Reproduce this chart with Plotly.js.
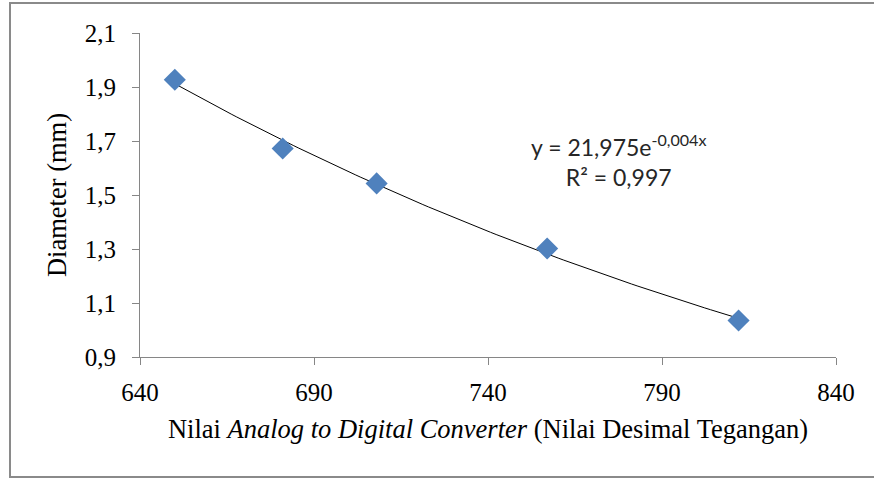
<!DOCTYPE html>
<html>
<head>
<meta charset="utf-8">
<script src="https://cdn.plot.ly/plotly-3.0.1.min.js"></script>
<style>html,body{margin:0;padding:0;background:#fff;}#chart{width:874px;height:479px;}</style>
</head>
<body>
<div id="chart"></div>
<script>
// Data
const adcValues = [650, 681, 708, 757, 812];
const diameterMm = [1.927, 1.672, 1.543, 1.302, 1.035];
const xTickVals = [640, 690, 740, 790, 840];
const xTickText = ['640', '690', '740', '790', '840'];
const yTickVals = [0.9, 1.1, 1.3, 1.5, 1.7, 1.9, 2.1];
const yTickText = ['0,9', '1,1', '1,3', '1,5', '1,7', '1,9', '2,1'];
const equationText = 'y = 21,975e<sup>-0,004x</sup><br>R² = 0,997';

// Exponential trendline fitted to the data (least squares on ln y)
const n = adcValues.length;
const lnY = diameterMm.map(v => Math.log(v));
const mx = adcValues.reduce((a, b) => a + b, 0) / n;
const my = lnY.reduce((a, b) => a + b, 0) / n;
let sxy = 0, sxx = 0;
for (let i = 0; i < n; i++) { sxy += (adcValues[i] - mx) * (lnY[i] - my); sxx += (adcValues[i] - mx) ** 2; }
const b = sxy / sxx;
const a = Math.exp(my - b * mx);
const xMin = Math.min(...adcValues), xMax = Math.max(...adcValues);
const trendX = [], trendY = [];
for (let k = 0; k <= 100; k++) { const x = xMin + (xMax - xMin) * k / 100; trendX.push(x); trendY.push(a * Math.exp(b * x)); }

const serif = '"Liberation Serif", "DejaVu Serif", serif';
const traces = [
  { x: trendX, y: trendY, mode: 'lines', line: { color: '#000000', width: 1 }, hoverinfo: 'skip', showlegend: false },
  { x: adcValues, y: diameterMm, mode: 'markers', marker: { symbol: 'diamond', size: 17, color: '#4F81BD' }, showlegend: false }
];

const layout = {
  width: 874, height: 479,
  margin: { l: 140, r: 38, t: 33, b: 122 },
  paper_bgcolor: '#ffffff', plot_bgcolor: '#ffffff',
  font: { family: serif, size: 25, color: '#000000' },
  xaxis: {
    range: [640, 840], tickvals: xTickVals, ticktext: xTickText,
    showgrid: false, zeroline: false, showline: true, linecolor: '#868686', linewidth: 1,
    ticks: 'outside', ticklen: 7, tickcolor: '#868686', ticklabelstandoff: 6,
    tickfont: { family: serif, size: 25, color: '#000' },
    title: { text: 'Nilai <i>Analog to Digital Converter</i> (Nilai Desimal Tegangan)', font: { family: serif, size: 26.5, color: '#000' }, standoff: 14 }
  },
  yaxis: {
    range: [0.9, 2.1], tickvals: yTickVals, ticktext: yTickText,
    showgrid: false, zeroline: false, showline: true, linecolor: '#868686', linewidth: 1,
    ticks: 'outside', ticklen: 7, tickcolor: '#868686', ticklabelstandoff: 11,
    tickfont: { family: serif, size: 25, color: '#000' },
    title: { text: 'Diameter (mm)', font: { family: serif, size: 26.5, color: '#000' }, standoff: 10 }
  },
  annotations: [{
    xref: 'paper', yref: 'paper', xanchor: 'center', yanchor: 'middle',
    x: (618 - 140) / 696, y: (357 - 160) / 324,
    text: equationText, showarrow: false, align: 'center',
    font: { family: 'Lato, "Liberation Sans", sans-serif', size: 23, color: '#262626' }
  }],
  shapes: [{
    type: 'rect', xref: 'paper', yref: 'paper',
    x0: -130 / 696, x1: 760 / 696, y0: (357 - 477) / 324, y1: (357 - 3) / 324,
    line: { color: '#8a8a8a', width: 2 }, fillcolor: 'rgba(0,0,0,0)'
  }]
};

Plotly.newPlot('chart', traces, layout, { displayModeBar: false, staticPlot: true });
</script>
</body>
</html>
